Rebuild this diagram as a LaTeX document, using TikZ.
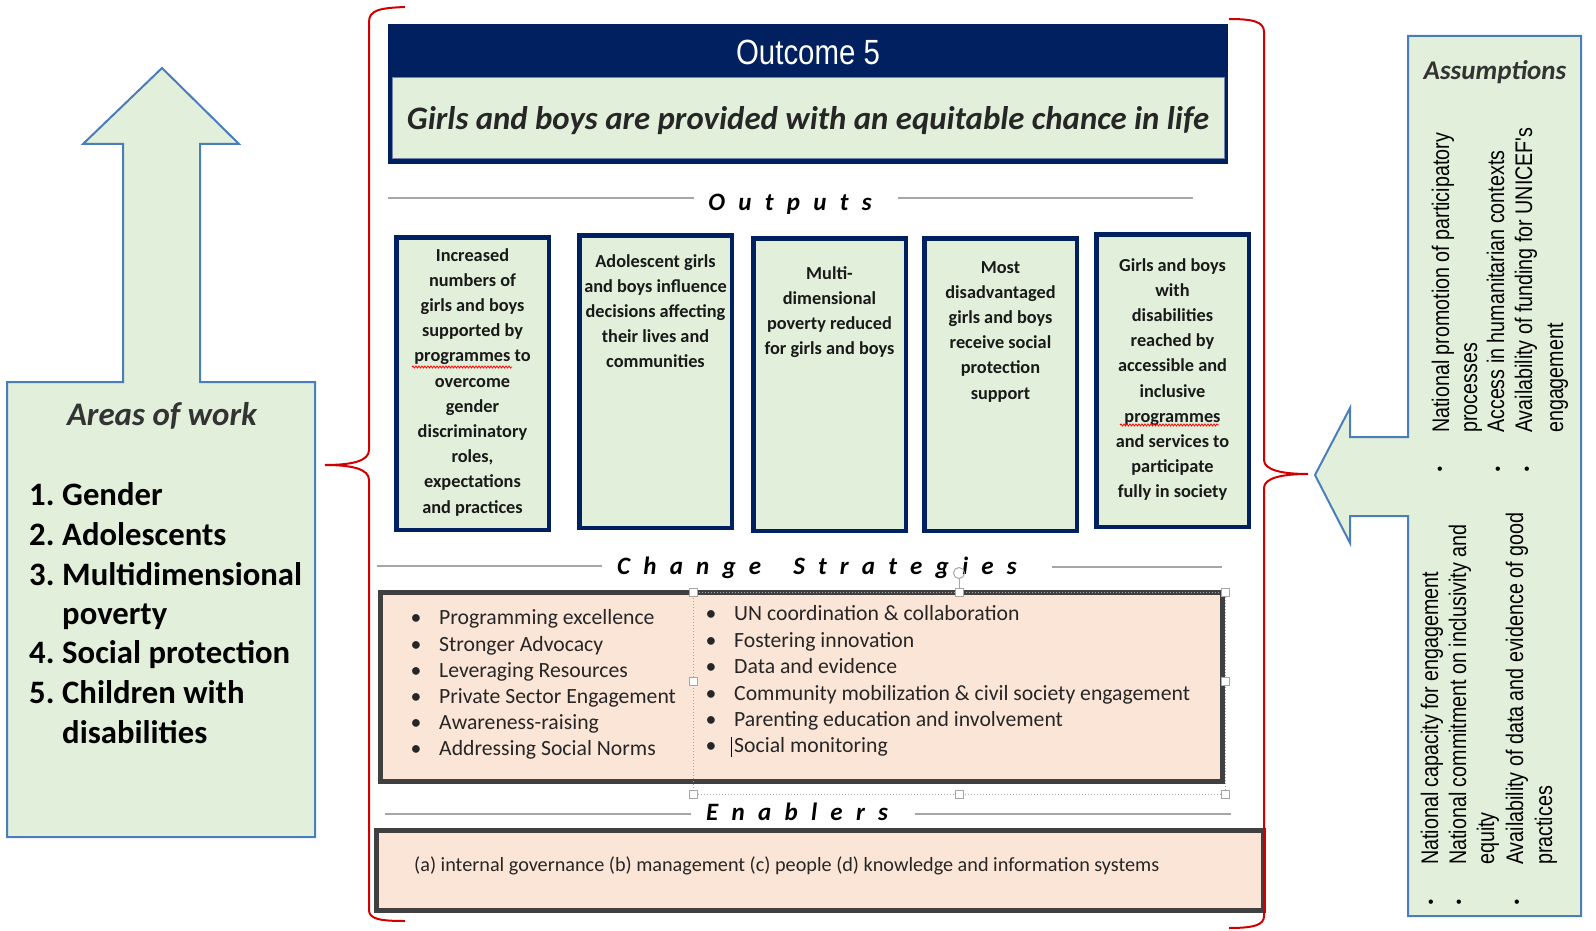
\documentclass[tikz,border=0pt]{standalone}
\usepackage{fontspec}
\setmainfont{Carlito}
\newfontfamily\arialfont{Liberation Sans}
\usepackage{graphicx}
\usetikzlibrary{decorations.pathmorphing}
\definecolor{navy}{HTML}{002060}
\definecolor{paleg}{HTML}{E2EFDA}
\definecolor{peach}{HTML}{FBE5D6}
\definecolor{edgegray}{HTML}{404040}
\definecolor{arrowblue}{HTML}{4A7EBB}
\definecolor{bracered}{HTML}{D00000}

% letter-spaced headings
\newlength\gapw
\newcommand\spread[2]{\setlength\gapw{#1}\kern-\gapw\spreadnext#2\relax}
\def\spreadnext#1{\ifx#1\relax\else\kern\gapw#1\expandafter\spreadnext\fi}
% narrow sans
\newcommand\nar[1]{\scalebox{0.82}[1]{#1}}

\begin{document}
\begin{tikzpicture}[x=1pt, y=-1pt,
  outbox/.style={draw=navy, line width=4.5pt, fill=paleg, minimum width=152.5pt, minimum height=292.5pt, inner sep=0pt},
  outtext/.style={anchor=north, align=center, inner sep=0pt, text=black!90, font=\fontsize{18.3}{25.2}\selectfont\bfseries},
  heading/.style={anchor=base, inner sep=0pt, font=\fontsize{25}{30}\selectfont\bfseries\itshape},
  rule/.style={draw=black!35, line width=1.5pt},
  item/.style={anchor=base west, inner sep=0pt, text=black!85, font=\fontsize{21.7}{26}\selectfont},
  dot/.style={anchor=base, inner sep=0pt, text=black!85, font=\fontsize{21.7}{26}\selectfont},
  area/.style={anchor=base west, inner sep=0pt, font=\fontsize{32.7}{39}\selectfont\bfseries},
  asm/.style={rotate=90, anchor=base west, inner sep=0pt, font=\arialfont\fontsize{24}{28}\selectfont},
  handle/.style={draw=black!35, fill=white, line width=1pt, minimum size=8pt, inner sep=0pt},
  brace/.style={draw=bracered, line width=2pt},
  bigarrow/.style={draw=arrowblue, line width=2pt, fill=paleg},
  thickbox/.style={draw=edgegray, line width=5pt, fill=peach}
]
\useasboundingbox (0,0) rectangle (1596,931);

% Areas of work arrow
\draw[bigarrow] (7,382) -- (123,382) -- (123,144) -- (83,144) -- (162,68) -- (239,144)
  -- (200,144) -- (200,382) -- (315,382) -- (315,837) -- (7,837) -- cycle;
\node[anchor=base, inner sep=0pt, text=black!80, font=\fontsize{32.9}{39}\selectfont\bfseries\itshape] (areas) at (162,425) {Areas of work};
\foreach \i/\y/\t in {1/505/Gender, 2/545/Adolescents, 3/585/Multidimensional, 4/663/Social protection, 5/703/Children with} {
    \node[area] (n\i) at (29,\y) {\i.};
    \node[area] (a\i) at (62,\y) {\t};
}
\node[area] (a3b) at (62,624) {poverty};
\node[area] (a5b) at (62,743) {disabilities};

% Assumptions arrow
\draw[bigarrow] (1408,36) -- (1581,36) -- (1581,916) -- (1408,916) -- (1408,516) -- (1350,516)
  -- (1350,543) -- (1315,475) -- (1350,408) -- (1350,437) -- (1408,437) -- cycle;
\node[anchor=base, inner sep=0pt, text=black!80, font=\fontsize{27}{32}\selectfont\bfseries\itshape] (assume) at (1495,80) {Assumptions};
\node[asm] (u1) at (1449,433) {\nar{National promotion of participatory}};
\node[asm] (u1b) at (1477,433) {\nar{processes}};
\node[asm] (u2) at (1504,433) {\nar{Access in humanitarian contexts}};
\node[asm] (u3) at (1532,433) {\nar{Availability of funding for UNICEF's}};
\node[asm] (u3b) at (1563,433) {\nar{engagement}};
\node[asm] (d1) at (1438,865) {\nar{National capacity for engagement}};
\node[asm] (d2) at (1466,865) {\nar{National commitment on inclusivity and}};
\node[asm] (d2b) at (1494,865) {\nar{equity}};
\node[asm] (d3) at (1523,865) {\nar{Availability of data and evidence of good}};
\node[asm] (d3b) at (1552,865) {\nar{practices}};
\foreach \i/\x/\y in {1/1440/471, 2/1498/471, 3/1527/471, 4/1431/904, 5/1459/904, 6/1517/904} {
    \node[inner sep=0pt, font=\arialfont\fontsize{16}{16}\selectfont] (ab\i) at (\x,\y) {\textbullet};
}

% Outcome header
\fill[navy] (388,24) rectangle (1228,164);
\draw[navy!55, line width=1pt, fill=paleg] (392,78) rectangle (1224,159);
\node[anchor=base, inner sep=0pt, text=white, xscale=0.84, font=\arialfont\fontsize{35}{40}\selectfont] (outcome) at (808,65) {Outcome 5};
\node[anchor=base, inner sep=0pt, text=black!85, font=\fontsize{32.8}{38}\selectfont\bfseries\itshape] (goal) at (808,129.5) {Girls and boys are provided with an equitable chance in life};

% Outputs
\node[heading] (outh) at (790,210) {\spread{13.3pt}{Outputs}};
\draw[rule] (388,198) -- (694,198);
\draw[rule] (898,198) -- (1193,198);
\foreach \i/\x/\y in {1/472.5/383.5, 2/655.5/381.5, 3/829.5/384.5, 4/1000.5/384.5, 5/1172.5/380.5} {
    \node[outbox] (o\i) at (\x,\y) {};
}
\node[outtext] (t1) at (472.5,248) {Increased\\numbers of\\girls and boys\\supported by\\programmes to\\overcome\\gender\\discriminatory\\roles,\\expectations\\and practices};
\node[outtext] (t2) at (655.5,254) {Adolescent girls\\and boys influence\\decisions affecting\\their lives and\\communities};
\node[outtext] (t3) at (829.5,266) {Multi-\\dimensional\\poverty reduced\\for girls and boys};
\node[outtext] (t4) at (1000.5,261) {Most\\disadvantaged\\girls and boys\\receive social\\protection\\support};
\node[outtext] (t5) at (1172.5,258) {Girls and boys\\with\\disabilities\\reached by\\accessible and\\inclusive\\programmes\\and services to\\participate\\fully in society};
\draw[red, line width=0.8pt, decorate, decoration={snake, amplitude=1pt, segment length=3pt}] (412,367) -- (512,367);
\draw[red, line width=0.8pt, decorate, decoration={snake, amplitude=1pt, segment length=3pt}] (1120,425) -- (1219,425);

% Change strategies
\node[heading] (chh) at (817,574) {\spread{13.2pt}{Change~Strategies}};
\draw[rule] (377,566) -- (602,566);
\draw[rule] (1052,567) -- (1222,567);
\draw[thickbox] (380,592) rectangle (1222,781);
\foreach \i/\y/\t in {1/624/Programming excellence, 2/651/Stronger Advocacy, 3/677/Leveraging Resources, 4/703/Private Sector Engagement, 5/729/Awareness-raising, 6/755/Addressing Social Norms} {
    \node[dot] (lb\i) at (416,\y) {\textbullet};
    \node[item] (ls\i) at (439,\y) {\t};
}
\foreach \i/\y/\t in {1/620/UN coordination \& collaboration, 2/647/Fostering innovation, 3/673/Data and evidence, 4/700/Community mobilization \& civil society engagement, 5/726/Parenting education and involvement, 6/752/Social monitoring} {
    \node[dot] (rb\i) at (711,\y) {\textbullet};
    \node[item] (rs\i) at (734,\y) {\t};
}
\draw[black, line width=0.8pt] (731,737) -- (731,757);

% selection frame
\draw[black!35, dotted, line width=1pt] (693,592) rectangle (1225,794);
\node[circle, draw=black!35, line width=1pt, minimum size=11pt, inner sep=0pt] (rot) at (959,573) {};
\foreach \i/\x/\y in {1/693/592, 2/959/592, 3/1225/592, 4/693/681, 5/1225/681, 6/693/794, 7/959/794, 8/1225/794} {
    \node[handle] (h\i) at (\x,\y) {};
}
\draw[black!35, line width=1pt] (rot) -- (h2);

% Enablers
\node[heading] (enh) at (797,820) {\spread{13.3pt}{Enablers}};
\draw[rule] (385,814) -- (691,814);
\draw[rule] (915,814) -- (1231,814);
\draw[thickbox] (376,830) rectangle (1263,910);
\node[anchor=base west, inner sep=0pt, text=black!85, font=\fontsize{20.2}{24}\selectfont] (enab) at (414,871) {(a) internal governance (b) management (c) people (d) knowledge and information systems};

% Braces
\draw[brace] (405,7) .. controls (380,8) and (369,10) .. (369,22) -- (369,450)
  .. controls (369,461) and (352,465) .. (325,465)
  .. controls (352,465) and (369,469) .. (369,480) -- (369,910)
  .. controls (369,919) and (380,921) .. (405,921);
\draw[brace] (1229,19) .. controls (1254,19) and (1264,22) .. (1264,32) -- (1264,460)
  .. controls (1264,470) and (1282,474) .. (1308,474)
  .. controls (1282,474) and (1264,478) .. (1264,488) -- (1264,916)
  .. controls (1264,925) and (1254,928) .. (1229,928);
\end{tikzpicture}
\end{document}
